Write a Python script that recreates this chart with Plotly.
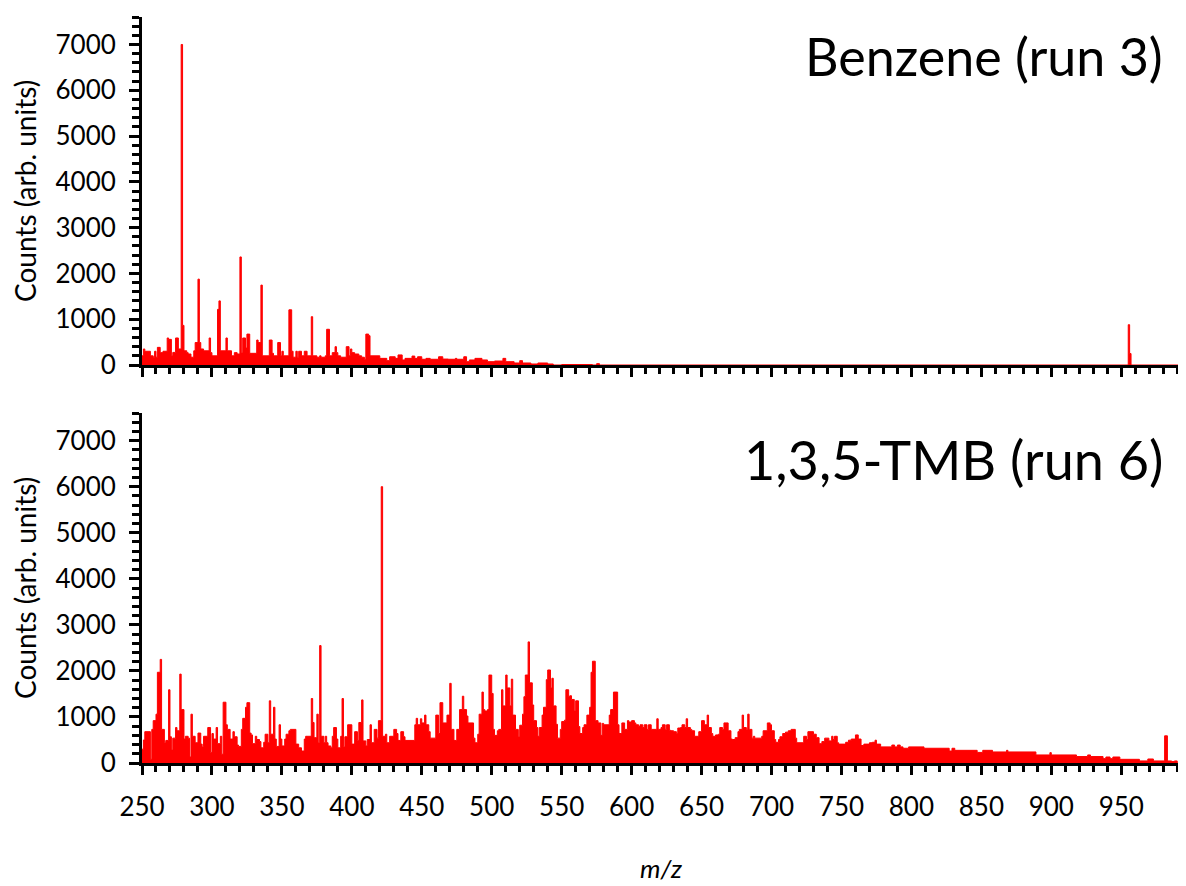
import plotly.graph_objects as go

# ---------------- data (step breakpoints: m/z where a level starts, counts) ----------------
top_mz = [250, 251, 252, 256, 258, 259, 260, 261, 263, 265, 268, 269, 271, 272, 274, 276, 278, 279, 280,
          282, 283, 285, 287, 288, 290, 291, 292, 294, 298, 299, 300, 304, 305, 306, 310, 311, 314, 316,
          318, 320, 321, 322, 324, 325, 327, 332, 333, 335, 336, 341, 343, 344, 347, 349, 350, 351, 355,
          357, 358, 360, 361, 362, 364, 366, 368, 371, 372, 375, 377, 378, 381, 382, 384, 386, 388, 389,
          390, 392, 396, 398, 399, 400, 402, 405, 407, 409, 410, 412, 413, 420, 425, 427, 431, 433, 436,
          438, 443, 445, 447, 450, 453, 456, 462, 465, 469, 474, 475, 480, 482, 484, 488, 493, 497, 502,
          508, 510, 516, 520, 522, 528, 533, 540, 544, 550, 572, 575, 577, 955, 956, 957, 992]
top_counts = [200, 350, 300, 200, 170, 300, 170, 385, 270, 300, 590, 560, 200, 275, 590, 350, 7000, 865, 310,
              270, 240, 170, 310, 490, 1875, 490, 350, 310, 590, 270, 200, 1215, 1400, 310, 590, 310, 200, 270,
              240, 2360, 270, 590, 370, 675, 255, 545, 490, 1745, 200, 545, 255, 200, 490, 200, 300, 200, 1205,
              300, 170, 300, 170, 300, 200, 300, 200, 1055, 200, 170, 200, 170, 200, 780, 200, 270, 400, 270,
              200, 170, 400, 200, 350, 270, 240, 200, 170, 125, 675, 640, 200, 145, 95, 180, 145, 220, 110,
              145, 195, 145, 180, 125, 145, 125, 180, 130, 125, 145, 125, 180, 73, 110, 145, 110, 73, 87,
              145, 73, 44, 95, 44, 22, 44, 22, 0, 10, 0, 30, 0, 880, 250, 0, 0]

bot_mz = [250, 251, 252, 256, 257, 258, 260, 261, 263, 264, 266, 267, 269, 270, 271, 272, 274, 275, 277, 278,
          280, 281, 283, 284, 285, 286, 288, 290, 292, 293, 294, 297, 299, 300, 301, 303, 304, 306, 307, 308,
          310, 311, 313, 315, 316, 318, 319, 321, 322, 324, 325, 327, 328, 329, 331, 332, 334, 335, 337, 338,
          340, 341, 342, 344, 345, 346, 348, 349, 350, 352, 353, 355, 356, 360, 362, 364, 366, 367, 371, 372,
          373, 375, 376, 377, 378, 380, 381, 382, 383, 385, 386, 387, 389, 390, 392, 393, 394, 395, 397, 400,
          402, 404, 405, 407, 408, 410, 411, 413, 414, 416, 418, 419, 421, 422, 424, 425, 427, 430, 432, 433,
          435, 437, 438, 445, 446, 447, 449, 450, 452, 453, 455, 456, 460, 462, 463, 465, 468, 470, 471, 473,
          475, 477, 479, 480, 482, 483, 487, 488, 490, 491, 493, 494, 495, 497, 498, 500, 501, 502, 504, 505,
          507, 508, 510, 511, 513, 514, 515, 517, 519, 520, 522, 523, 524, 526, 527, 529, 530, 532, 533, 534,
          536, 537, 539, 540, 542, 543, 544, 546, 547, 549, 550, 552, 553, 555, 556, 557, 559, 560, 562, 563,
          565, 566, 568, 570, 571, 572, 574, 576, 578, 579, 580, 584, 585, 587, 590, 591, 593, 595, 597, 598,
          600, 602, 603, 605, 606, 608, 609, 611, 612, 614, 618, 619, 621, 622, 624, 625, 627, 628, 630, 632,
          633, 635, 636, 638, 639, 640, 642, 643, 645, 648, 650, 652, 654, 655, 657, 658, 660, 662, 663, 665,
          666, 669, 671, 672, 674, 676, 677, 679, 680, 682, 683, 684, 686, 687, 688, 693, 694, 697, 699, 700,
          702, 703, 705, 706, 708, 710, 712, 714, 717, 718, 723, 725, 726, 730, 732, 734, 736, 738, 741, 743,
          744, 745, 747, 748, 753, 755, 757, 760, 762, 764, 766, 770, 772, 774, 775, 778, 786, 788, 790, 792,
          794, 798, 809, 827, 829, 831, 847, 851, 858, 868, 869, 889, 899, 900, 918, 926, 928, 937, 939, 942,
          944, 949, 963, 969, 973, 981, 983, 986, 988, 990, 992]
bot_counts = [300, 500, 680, 80, 730, 920, 1060, 1970, 2250, 730, 440, 490, 1590, 570, 280, 540, 770, 700, 1930, 1160,
              520, 580, 540, 130, 1060, 580, 440, 650, 410, 350, 580, 770, 230, 640, 520, 770, 420, 580, 190, 1320,
              830, 730, 520, 680, 570, 390, 360, 730, 970, 1210, 1310, 650, 610, 420, 580, 510, 465, 330, 450, 625,
              440, 1350, 625, 1210, 520, 360, 830, 520, 370, 520, 625, 700, 730, 410, 330, 260, 520, 580, 1400, 880,
              550, 1060, 440, 2550, 580, 440, 580, 440, 370, 330, 580, 770, 520, 330, 580, 1400, 350, 570, 830, 410,
              680, 490, 880, 1370, 480, 370, 510, 830, 440, 730, 540, 920, 6000, 580, 625, 440, 580, 730, 640, 490,
              680, 570, 490, 830, 970, 830, 960, 870, 1040, 830, 680, 540, 1040, 640, 1310, 870, 1040, 1730, 730, 490,
              730, 1160, 1450, 1160, 1020, 870, 540, 440, 625, 1060, 1540, 1160, 1130, 1160, 1910, 1510, 730, 600, 700, 730,
              1590, 1240, 1910, 1630, 1240, 1820, 1040, 730, 570, 820, 1060, 1440, 1910, 2630, 1740, 1260, 920, 770, 580, 770,
              1040, 1210, 1810, 2020, 1630, 1840, 1240, 840, 540, 730, 900, 930, 1590, 1450, 1460, 1380, 1130, 1350, 790, 640,
              770, 830, 1040, 1210, 1970, 2210, 920, 870, 600, 860, 830, 1040, 1160, 1540, 830, 640, 870, 730, 920, 890,
              920, 870, 830, 790, 830, 770, 830, 730, 830, 730, 960, 730, 770, 830, 730, 830, 710, 700, 680, 640,
              760, 770, 830, 770, 960, 770, 730, 700, 580, 680, 920, 830, 1040, 770, 640, 580, 610, 625, 770, 730,
              870, 700, 520, 510, 550, 680, 730, 1040, 770, 730, 1060, 730, 540, 580, 540, 580, 700, 870, 830, 700,
              510, 450, 510, 570, 640, 670, 700, 730, 540, 440, 580, 510, 680, 625, 550, 420, 465, 540, 480, 580,
              510, 580, 440, 410, 450, 495, 520, 610, 520, 380, 410, 440, 450, 495, 410, 350, 390, 350, 390, 350,
              320, 350, 320, 260, 320, 275, 230, 275, 240, 275, 240, 175, 225, 175, 140, 175, 140, 95, 130, 95,
              130, 80, 45, 87, 45, 590, 45, 30, 45, 0, 0]

panel_titles = ["Benzene (run 3)", "1,3,5-TMB (run 6)"]
x_tick_vals = [250, 300, 350, 400, 450, 500, 550, 600, 650, 700, 750, 800, 850, 900, 950]
x_tick_text = ["250", "300", "350", "400", "450", "500", "550", "600", "650", "700", "750", "800", "850", "900", "950"]
y_tick_vals = [0, 1000, 2000, 3000, 4000, 5000, 6000, 7000]
y_tick_text = ["0", "1000", "2000", "3000", "4000", "5000", "6000", "7000"]

FONT = "Lato"
RED = "#ff0000"

fig = go.Figure()
fig.add_trace(go.Scatter(x=top_mz, y=top_counts, mode="lines", line=dict(shape="hv", color=RED, width=1),
                         fill="tozeroy", fillcolor=RED, xaxis="x", yaxis="y", hoverinfo="skip", showlegend=False))
fig.add_trace(go.Scatter(x=bot_mz, y=bot_counts, mode="lines", line=dict(shape="hv", color=RED, width=1),
                         fill="tozeroy", fillcolor=RED, xaxis="x2", yaxis="y2", hoverinfo="skip", showlegend=False))

# the page body has an 8px margin, so the figure is offset by (8, 8) in the window
W, H = 1178, 878
L, R, T = 134, 6, 9
B = H - 755
ph = H - T - B
top_dom = [(755 - 357) / ph, 1.0]
bot_dom = [0.0, (755 - 405) / ph]

def xaxis(anchor, labels):
    return dict(anchor=anchor, range=[250, 992], showline=True, linecolor="black", linewidth=3,
                ticks="outside", tickcolor="black", tickwidth=3, ticklen=9,
                tickvals=x_tick_vals, ticktext=x_tick_text, showticklabels=labels,
                ticklabelstandoff=10, automargin=False,
                minor=dict(ticks="outside", dtick=10, tick0=250, ticklen=6, tickwidth=3, tickcolor="black"),
                showgrid=False, zeroline=False, tickfont=dict(family=FONT, size=26, color="black"))

def yaxis(anchor, dom):
    return dict(anchor=anchor, domain=dom, range=[0, 7600], showline=True, linecolor="black", linewidth=3,
                ticks="outside", tickcolor="black", tickwidth=3, ticklen=10,
                tickvals=y_tick_vals, ticktext=y_tick_text, ticklabelstandoff=8, automargin=False,
                minor=dict(ticks="outside", dtick=200, tick0=0, ticklen=7, tickwidth=3, tickcolor="black"),
                showgrid=False, zeroline=False, tickfont=dict(family=FONT, size=26, color="black"))

fig.update_layout(
    template="none",
    width=W, height=H, margin=dict(l=L, r=R, t=T, b=B, pad=0),
    paper_bgcolor="white", plot_bgcolor="white",
    xaxis=xaxis("y", False), yaxis=yaxis("x", top_dom),
    xaxis2=xaxis("y2", True), yaxis2=yaxis("x2", bot_dom),
    font=dict(family=FONT, color="black"),
)

ann = []
for dom in (top_dom, bot_dom):
    ann.append(dict(text="Counts (arb. units)", xref="paper", yref="paper", x=0, y=(dom[0] + dom[1]) / 2,
                    xanchor="center", yanchor="middle", xshift=-117, textangle=-90, showarrow=False,
                    font=dict(family=FONT, size=28, color="black")))
ann.append(dict(text=panel_titles[0], xref="paper", yref="paper", x=1, y=top_dom[1], xanchor="right",
                yanchor="middle", xshift=-15, yshift=-39, showarrow=False,
                font=dict(family=FONT, size=52, color="black")))
ann.append(dict(text=panel_titles[1], xref="paper", yref="paper", x=1, y=bot_dom[1], xanchor="right",
                yanchor="middle", xshift=-15, yshift=-46, showarrow=False,
                font=dict(family=FONT, size=54, color="black")))
ann.append(dict(text="<i>m/z</i>", xref="paper", yref="paper", x=0.5, y=0, xanchor="center", yanchor="middle",
                yshift=-105, showarrow=False, font=dict(family=FONT, size=26, color="black")))
fig.update_layout(annotations=ann)

fig.write_html("out.html")
